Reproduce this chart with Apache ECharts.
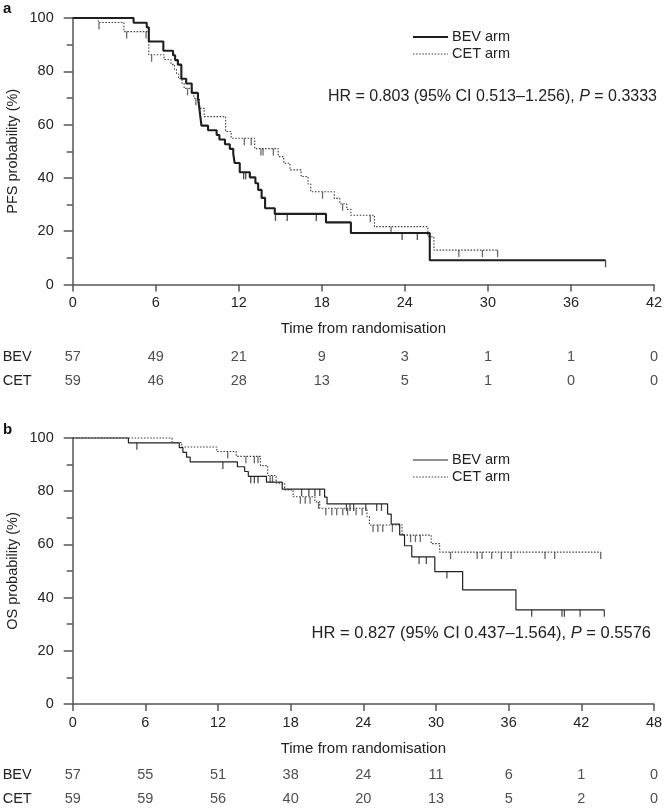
<!DOCTYPE html>
<html><head><meta charset="utf-8">
<script src="https://cdn.jsdelivr.net/npm/echarts@6/dist/echarts.min.js"></script>
<style>html,body{margin:0;padding:0;background:#fff}#c{width:664px;height:810px}</style>
</head><body><div id="c"></div>
<script>
// ---------- Panel a: PFS ----------
const pfsXTicks = [0, 6, 12, 18, 24, 30, 36, 42];
const pfsBevTimes = [0, 4.4, 5.35, 5.5, 6.55, 7.25, 7.4, 7.6, 7.85, 8.2, 8.6, 9.05, 9.18, 9.3, 9.78, 10.4, 10.6, 11.0, 11.35, 11.6, 11.7, 12.07, 12.8, 13.2, 13.4, 13.65, 13.9, 14.6, 18.3, 20.1, 25.8];
const pfsBevSurv  = [100, 98.2, 96.5, 91.2, 87.7, 86.0, 84.2, 82.5, 77.2, 75.4, 71.9, 70.2, 64.9, 59.6, 57.9, 56.1, 54.4, 52.6, 50.9, 49.1, 45.6, 42.1, 40.2, 38.0, 35.5, 32.5, 28.6, 26.5, 23.3, 19.3, 9.1];
const pfsBevCensor = [12.35, 12.5, 14.65, 15.5, 17.6, 23.8, 24.9, 38.5];
const pfsCetTimes = [0, 1.85, 3.7, 5.5, 6.6, 7.1, 7.35, 7.5, 7.65, 7.9, 8.05, 8.6, 8.75, 9.15, 9.2, 9.5, 11.05, 11.45, 13.15, 14.85, 15.25, 15.7, 16.5, 17.0, 17.2, 18.9, 19.3, 19.8, 20.1, 21.8, 25.66, 26.1];
const pfsCetSurv  = [100, 98.3, 94.9, 86.2, 84.4, 82.6, 80.8, 79.0, 77.2, 75.4, 73.6, 71.7, 69.9, 68.0, 66.1, 63.0, 57.4, 54.9, 51.0, 48.0, 45.5, 43.0, 40.5, 37.7, 34.8, 32.3, 30.3, 28.2, 26.0, 21.7, 17.9, 12.9];
const pfsCetCensor = [1.9, 3.9, 5.3, 5.7, 8.3, 8.9, 12.4, 12.9, 13.6, 13.75, 14.5, 18.05, 19.5, 21.5, 23.0, 27.9, 29.6, 30.7];
const pfsRiskBev = [57, 49, 21, 9, 3, 1, 1, 0];
const pfsRiskCet = [59, 46, 28, 13, 5, 1, 0, 0];

// ---------- Panel b: OS ----------
const osXTicks = [0, 6, 12, 18, 24, 30, 36, 42, 48];
const osBevTimes = [0, 4.6, 8.8, 9.1, 9.4, 9.7, 13.6, 14.2, 14.5, 16.0, 17.3, 20.8, 21.0, 26.0, 26.3, 27.0, 27.4, 28.0, 29.9, 32.2, 36.6];
const osBevSurv  = [100, 98.2, 96.4, 94.6, 92.8, 91.0, 89.2, 87.4, 85.6, 83.4, 80.8, 77.8, 75.2, 71.4, 67.6, 63.6, 59.5, 55.3, 49.8, 42.9, 35.4];
const osBevCensor = [5.3, 12.4, 14.7, 15.0, 15.3, 18.9, 19.5, 20.0, 20.4, 22.6, 22.9, 23.2, 24.2, 25.1, 25.5, 28.6, 29.2, 30.9, 37.9, 40.4, 40.6, 41.9, 43.9];
const osCetTimes = [0, 8.2, 9.0, 11.9, 13.5, 15.5, 16.1, 16.8, 17.5, 18.2, 20.0, 20.4, 24.3, 24.5, 27.2, 29.6, 30.3];
const osCetSurv  = [100, 98.3, 96.6, 94.9, 93.1, 89.6, 85.9, 83.0, 80.5, 77.9, 76.0, 73.6, 70.4, 67.3, 63.5, 60.3, 57.1];
const osCetCensor = [12.8, 14.3, 15.0, 15.3, 16.3, 16.5, 18.8, 19.2, 19.6, 20.3, 20.9, 21.4, 21.8, 22.3, 22.7, 23.4, 23.9, 24.8, 25.2, 25.6, 26.4, 27.9, 28.3, 28.7, 31.2, 33.4, 33.8, 34.6, 35.4, 36.2, 39.0, 39.8, 43.6];
const osRiskBev = [57, 55, 51, 38, 24, 11, 6, 1, 0];
const osRiskCet = [59, 59, 56, 40, 20, 13, 5, 2, 0];

const riskRows = ['BEV', 'CET'];
const FONT = "'Liberation Sans', Arial, Helvetica, sans-serif";
const TXT = '#222';
const AX = '#555';
const FS = 14.5;

function stepData(times, surv, censor) {
  const d = times.map((t, i) => [t, surv[i]]);
  const last = censor[censor.length - 1];
  if (last > times[times.length - 1]) d.push([last, surv[surv.length - 1]]);
  return d;
}
function survAt(times, surv, t) {
  let s = surv[0];
  for (let i = 0; i < times.length; i++) { if (times[i] <= t) s = surv[i]; }
  return s;
}
function censorData(times, surv, censor) {
  return censor.map(t => [t, survAt(times, surv, t)]);
}

const ch = echarts.init(document.getElementById('c'), null, {renderer: 'canvas'});

const gridBase = {containLabel: false, outerBoundsMode: 'none'};
const grids = [
  Object.assign({left: 72.7, top: 18, width: 581.3, height: 266.5}, gridBase),
  Object.assign({left: 72.7, top: 345, width: 581.3, height: 48}, gridBase),
  Object.assign({left: 72.7, top: 438, width: 581.3, height: 266}, gridBase),
  Object.assign({left: 72.7, top: 763, width: 581.3, height: 48}, gridBase)
];

function plotX(gi, max) {
  return {
    type: 'value', gridIndex: gi, min: 0, max: max, interval: 6,
    name: 'Time from randomisation', nameLocation: 'middle', nameGap: 37,
    nameMoveOverlap: false,
    nameTextStyle: {fontFamily: FONT, fontSize: 15, color: TXT},
    axisLine: {show: true, onZero: false, lineStyle: {color: AX, width: 1.5}},
    axisTick: {show: true, length: 7, lineStyle: {color: AX, width: 1.5}},
    axisLabel: {fontFamily: FONT, fontSize: FS, color: TXT, margin: 11},
    splitLine: {show: false}
  };
}
function plotY(gi, name) {
  return {
    type: 'value', gridIndex: gi, min: 0, max: 100, interval: 20,
    name: name, nameLocation: 'middle', nameGap: 52, nameMoveOverlap: false,
    nameTextStyle: {fontFamily: FONT, fontSize: FS, color: TXT},
    axisLine: {show: true, lineStyle: {color: AX, width: 1.5}},
    axisTick: {show: true, length: 9, lineStyle: {color: AX, width: 1.5}},
    minorTick: {show: true, splitNumber: 2, length: 6, lineStyle: {color: AX, width: 1.5}},
    axisLabel: {fontFamily: FONT, fontSize: FS, color: TXT, margin: 19},
    splitLine: {show: false}
  };
}
function riskX(gi, max) {
  return {type: 'value', gridIndex: gi, min: 0, max: max, interval: 6, show: false};
}
function riskY(gi) {
  return {
    type: 'category', gridIndex: gi, data: riskRows, inverse: true,
    axisLine: {show: false}, axisTick: {show: false}, splitLine: {show: false},
    axisLabel: {fontFamily: FONT, fontSize: FS, color: TXT, align: 'left', margin: 70}
  };
}

function lineSeries(gi, data, color, width, type) {
  return {
    type: 'line', xAxisIndex: gi, yAxisIndex: gi, data: data, step: 'end',
    symbol: 'none', clip: false, animation: false,
    lineStyle: {color: color, width: width, type: type}
  };
}
function censorSeries(gi, data, color) {
  return {
    type: 'scatter', xAxisIndex: gi, yAxisIndex: gi, data: data,
    symbol: 'rect', symbolSize: [1.3, 7], symbolOffset: [0, 3.5],
    itemStyle: {color: color}, animation: false, clip: false
  };
}
function riskSeries(gi, ticks, vals, row) {
  return {
    type: 'scatter', xAxisIndex: gi, yAxisIndex: gi,
    data: ticks.map((t, i) => [t, row, vals[i]]),
    symbolSize: 1, itemStyle: {color: 'rgba(0,0,0,0)'}, animation: false,
    label: {show: true, position: 'inside', formatter: p => String(p.value[2]),
      fontFamily: FONT, fontSize: FS, color: TXT}
  };
}

const DOT = [1.5, 1.6];
const series = [
  lineSeries(0, stepData(pfsCetTimes, pfsCetSurv, pfsCetCensor), '#3a3a3a', 1.1, DOT),
  censorSeries(0, censorData(pfsCetTimes, pfsCetSurv, pfsCetCensor), '#444'),
  lineSeries(0, stepData(pfsBevTimes, pfsBevSurv, pfsBevCensor), '#1e1e1e', 2.1, 'solid'),
  censorSeries(0, censorData(pfsBevTimes, pfsBevSurv, pfsBevCensor), '#222'),
  riskSeries(1, pfsXTicks, pfsRiskBev, 'BEV'),
  riskSeries(1, pfsXTicks, pfsRiskCet, 'CET'),
  lineSeries(2, stepData(osCetTimes, osCetSurv, osCetCensor), '#3a3a3a', 1.1, DOT),
  censorSeries(2, censorData(osCetTimes, osCetSurv, osCetCensor), '#444'),
  lineSeries(2, stepData(osBevTimes, osBevSurv, osBevCensor), '#222', 1.2, 'solid'),
  censorSeries(2, censorData(osBevTimes, osBevSurv, osBevCensor), '#222'),
  riskSeries(3, osXTicks, osRiskBev, 'BEV'),
  riskSeries(3, osXTicks, osRiskCet, 'CET')
];

function legendGraphics(y0, w) {
  return [
    {type: 'line', shape: {x1: 413, y1: y0, x2: 448, y2: y0}, style: {stroke: '#1e1e1e', lineWidth: w}},
    {type: 'text', style: {x: 452, y: y0, text: 'BEV arm', font: FS + 'px ' + FONT, fill: TXT, verticalAlign: 'middle'}},
    {type: 'line', shape: {x1: 413, y1: y0 + 17, x2: 448, y2: y0 + 17}, style: {stroke: '#3a3a3a', lineWidth: 1.1, lineDash: DOT}},
    {type: 'text', style: {x: 452, y: y0 + 17, text: 'CET arm', font: FS + 'px ' + FONT, fill: TXT, verticalAlign: 'middle'}}
  ];
}
function hrText(x, y, size, body, p) {
  return {type: 'text', style: {
    x: x, y: y, align: 'right', verticalAlign: 'middle',
    text: '{n|' + body + ', }{i|P}{n| = ' + p + '}',
    rich: {
      n: {fontFamily: FONT, fontSize: size, fill: TXT},
      i: {fontFamily: FONT, fontSize: size, fill: TXT, fontStyle: 'italic'}
    }
  }};
}

const graphic = [
  {type: 'text', style: {x: 3, y: 9, text: 'a', font: 'bold 15px ' + FONT, fill: '#111', verticalAlign: 'middle'}},
  {type: 'text', style: {x: 3, y: 430, text: 'b', font: 'bold 15px ' + FONT, fill: '#111', verticalAlign: 'middle'}},
  ...legendGraphics(37, 2.1),
  ...legendGraphics(460, 1.2),
  hrText(657, 97, 16, 'HR = 0.803 (95% CI 0.513\u20131.256)', '0.3333'),
  hrText(651, 633, 16.5, 'HR = 0.827 (95% CI 0.437\u20131.564)', '0.5576')
];

ch.setOption({
  animation: false,
  backgroundColor: '#fff',
  grid: grids,
  xAxis: [plotX(0, 42), riskX(1, 42), plotX(2, 48), riskX(3, 48)],
  yAxis: [plotY(0, 'PFS probability (%)'), riskY(1), plotY(2, 'OS probability (%)'), riskY(3)],
  series: series,
  graphic: graphic
});
</script>
</body></html>
